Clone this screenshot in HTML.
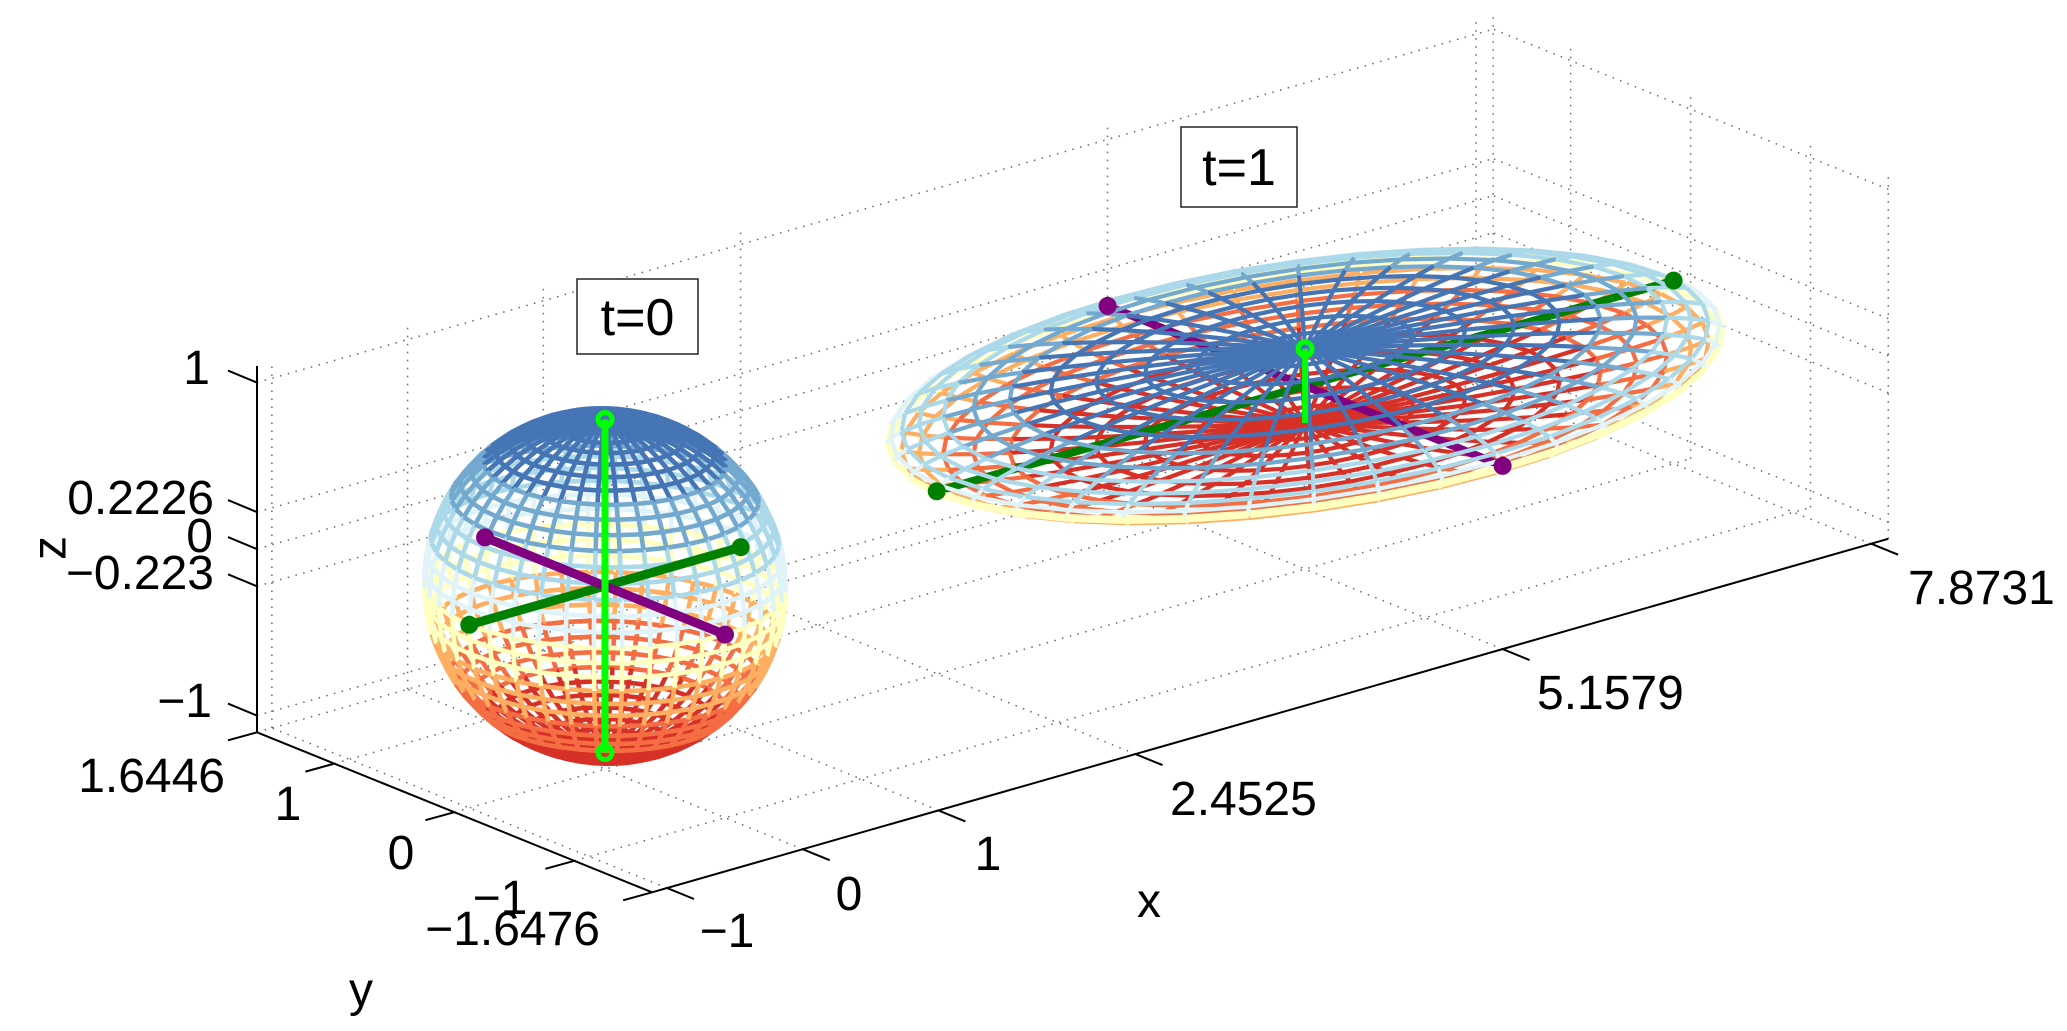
<!DOCTYPE html>
<html><head><meta charset="utf-8"><style>
html,body{margin:0;padding:0;background:#fff;}
svg{display:block;}
text{font-family:"Liberation Sans",Arial,sans-serif;font-size:48px;fill:#000;}
</style></head><body>
<svg id="s" width="2067" height="1031" viewBox="0 0 2067 1031" xmlns="http://www.w3.org/2000/svg">
<rect width="2067" height="1031" fill="#fff"/>
<g id="grid"></g>
<g id="mesh"></g>
<g id="axes"></g>
<g id="labels">
<text x="210" y="384" text-anchor="end">1</text>
<text x="214" y="514" text-anchor="end">0.2226</text>
<text x="213" y="552" text-anchor="end">0</text>
<text x="214" y="589" text-anchor="end">−0.223</text>
<text x="212" y="717" text-anchor="end">−1</text>
<text transform="translate(50,548) rotate(-90)" text-anchor="middle" dominant-baseline="central">z</text>
<text x="225" y="792" text-anchor="end">1.6446</text>
<text x="288" y="820" text-anchor="middle">1</text>
<text x="401" y="869" text-anchor="middle">0</text>
<text x="500" y="914" text-anchor="middle">−1</text>
<text x="600" y="945" text-anchor="end">−1.6476</text>
<text x="361" y="1006" text-anchor="middle">y</text>
<text x="727" y="947" text-anchor="middle">−1</text>
<text x="849" y="910" text-anchor="middle">0</text>
<text x="988" y="870" text-anchor="middle">1</text>
<text x="1170" y="815">2.4525</text>
<text x="1537" y="709">5.1579</text>
<text x="1908" y="604">7.8731</text>
<text x="1149" y="917" text-anchor="middle">x</text>
<rect x="577" y="279" width="121" height="75" fill="#fff" stroke="#222" stroke-width="1.5"/>
<text x="637.5" y="335" text-anchor="middle" style="font-size:52px">t=0</text>
<rect x="1181" y="127" width="116" height="80" fill="#fff" stroke="#222" stroke-width="1.5"/>
<text x="1239" y="185" text-anchor="middle" style="font-size:52px">t=1</text>
</g>
</svg>
<script>
(function(){
function P(x,y,z){return [605+135.7*x-120*y, 586-38.8*x-48.6*y-166.5*z];}
function D(x,y,z){return -19980*x-22594*y+11251*z;}
var xmin=-1.11,xmax=8.0,ymin=-1.6476,ymax=1.6446,zmin=-1.1,zmax=1.1;
var xt=[-1,0,1,2.4525,5.1579,7.8731],yt=[-1.6476,-1,0,1,1.6446],zt=[-1,-0.223,0,0.2226,1];
function f(v){return v.toFixed(1);}
var g='';
function gl(a,b){var p=P.apply(null,a),q=P.apply(null,b);g+='<line x1="'+f(p[0])+'" y1="'+f(p[1])+'" x2="'+f(q[0])+'" y2="'+f(q[1])+'"/>';}
xt.forEach(function(x){gl([x,ymax,zmin],[x,ymax,zmax]);gl([x,ymin,zmin],[x,ymax,zmin]);});
zt.forEach(function(z){gl([xmin,ymax,z],[xmax,ymax,z]);gl([xmax,ymin,z],[xmax,ymax,z]);});
yt.forEach(function(y){gl([xmax,y,zmin],[xmax,y,zmax]);gl([xmin,y,zmin],[xmax,y,zmin]);});
document.getElementById('grid').innerHTML='<g stroke="#666" stroke-width="1.5" stroke-dasharray="1.5 6.5" fill="none">'+g+'</g>';
var cols=['#4575b4','#74a9cf','#abd9e9','#e0f3f8','#ffffbf','#fdae61','#f46d43','#d73027'];
function col(t){var i=Math.floor((1-(t+1)/2)*cols.length);if(i<0)i=0;if(i>=cols.length)i=cols.length-1;return cols[i];}
var segs=[];
function addSeg(a,b,c,w,bonus){var p=P(a[0],a[1],a[2]),q=P(b[0],b[1],b[2]);
 var d=D((a[0]+b[0])/2,(a[1]+b[1])/2,(a[2]+b[2])/2)+(bonus||0);
 segs.push([d,p[0],p[1],q[0],q[1],c,w]);}
function ell(cx,cy,cz,a,b,c,nlat,nlon,w){
 var pts=[];
 for(var i=0;i<=nlat;i++){var ph=-Math.PI/2+Math.PI*i/nlat;pts[i]=[];
  for(var j=0;j<=nlon;j++){var th=-Math.PI+2*Math.PI*j/nlon;
   pts[i][j]=[cx+a*Math.cos(ph)*Math.cos(th),cy+b*Math.cos(ph)*Math.sin(th),cz+c*Math.sin(ph),Math.sin(ph)];}}
 for(var i=0;i<=nlat;i++)for(var j=0;j<nlon;j++){if(i==0||i==nlat)continue;var A=pts[i][j],B=pts[i][j+1];addSeg(A,B,col(A[3]),w);}
 for(var i=0;i<nlat;i++)for(var j=0;j<nlon;j++){var A=pts[i][j],B=pts[i+1][j];addSeg(A,B,col((A[3]+B[3])/2),w);}
}
ell(0,0,0,1,1,1,34,40,4.6);
ell(5.1579,-0.0015,0,2.7152,1.6461,0.2226,24,40,4.2);
function thick(a,b,c,w,n,bonus){for(var k=0;k<n;k++){var t0=k/n,t1=(k+1)/n;
 addSeg([a[0]+(b[0]-a[0])*t0,a[1]+(b[1]-a[1])*t0,a[2]+(b[2]-a[2])*t0],[a[0]+(b[0]-a[0])*t1,a[1]+(b[1]-a[1])*t1,a[2]+(b[2]-a[2])*t1],c,w,bonus);}}
var ex=5.1579,ey=-0.0015;
thick([ex-2.7152,ey,0],[ex+2.7152,ey,0],'#008000',8,24,0);
thick([ex,ey-1.6461,0],[ex,ey+1.6461,0],'#800080',8,16,0);
segs.sort(function(a,b){return a[0]-b[0];});
var m='';
segs.forEach(function(s){m+='<line x1="'+f(s[1])+'" y1="'+f(s[2])+'" x2="'+f(s[3])+'" y2="'+f(s[4])+'" stroke="'+s[5]+'" stroke-width="'+s[6]+'"/>';});
function L(a,b,c,w){var p=P.apply(null,a),q=P.apply(null,b);return '<line x1="'+f(p[0])+'" y1="'+f(p[1])+'" x2="'+f(q[0])+'" y2="'+f(q[1])+'" stroke="'+c+'" stroke-width="'+w+'"/>';}
function dot(a,c,r){var p=P.apply(null,a);return '<circle cx="'+f(p[0])+'" cy="'+f(p[1])+'" r="'+r+'" fill="'+c+'"/>';}
function ring(a,c){var p=P.apply(null,a);return '<circle cx="'+f(p[0])+'" cy="'+f(p[1])+'" r="7" fill="none" stroke="'+c+'" stroke-width="5"/>';}
m+=dot([ex-2.7152,ey,0],'#008000',9)+dot([ex+2.7152,ey,0],'#008000',9);
m+=dot([ex,ey-1.6461,0],'#800080',9)+dot([ex,ey+1.6461,0],'#800080',9);
m+=L([ex,ey,-0.2226],[ex,ey,0.2226],'#00ff00',6)+ring([ex,ey,0.2226],'#00ff00');
m+=L([-1,0,0],[1,0,0],'#008000',9)+dot([-1,0,0],'#008000',9)+dot([1,0,0],'#008000',9);
m+=L([0,-1,0],[0,1,0],'#800080',9)+dot([0,-1,0],'#800080',9)+dot([0,1,0],'#800080',9);
m+=L([0,0,-1],[0,0,1],'#00ff00',7)+ring([0,0,1],'#00ff00')+ring([0,0,-1],'#00ff00');
document.getElementById('mesh').innerHTML=m;
var ax='';
ax+=L([xmin,ymax,zmin],[xmin,ymax,zmax],'#000',2);
ax+=L([xmin,ymin,zmin],[xmin,ymax,zmin],'#000',2);
ax+=L([xmin,ymin,zmin],[xmax,ymin,zmin],'#000',2);
function tk(a,dx,dy){var p=P.apply(null,a);return '<line x1="'+f(p[0])+'" y1="'+f(p[1])+'" x2="'+f(p[0]+dx)+'" y2="'+f(p[1]+dy)+'" stroke="#000" stroke-width="2"/>';}
zt.forEach(function(z){ax+=tk([xmin,ymax,z],-29,-12);});
yt.forEach(function(y){ax+=tk([xmin,y,zmin],-29,8);});
xt.forEach(function(x){ax+=tk([x,ymin,zmin],27,11);});
document.getElementById('axes').innerHTML=ax;
})();
</script>
</body></html>
